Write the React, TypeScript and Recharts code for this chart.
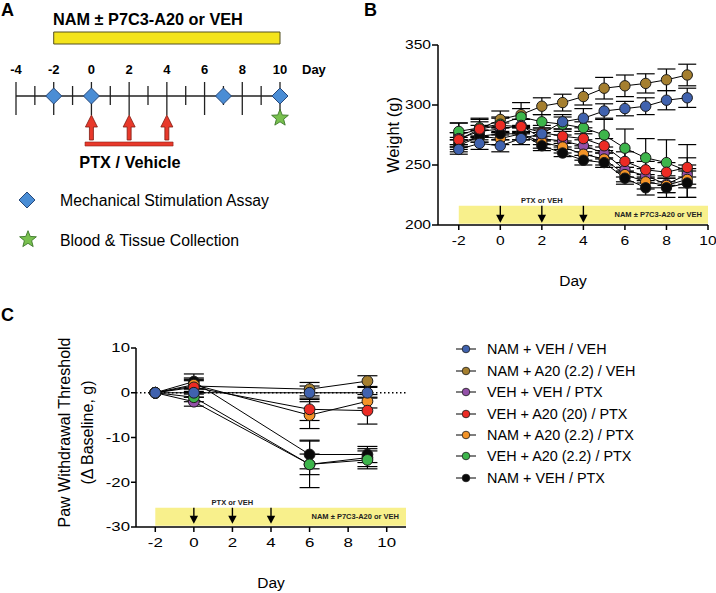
import React from 'react';
import {
  ComposedChart,
  Line,
  XAxis,
  YAxis,
  ErrorBar,
  ReferenceArea,
  ReferenceLine,
  Scatter,
  Legend,
} from 'recharts';

const FONT = '"Liberation Sans", Arial, Helvetica, sans-serif';

// ---------- Panel A (timeline) ----------
const timelineDays = [-4, -3, -2, -1, 0, 1, 2, 3, 4, 5, 6, 7, 8, 9, 10];
const assayDays = [-2, 0, 7, 10];
const collectionDays = [10];
const ptxDays = [0, 2, 4];
const treatmentRange = [-2, 10];
const ptxBarRange = [-0.34, 4.33];

// ---------- Panel B (weight) ----------
const weightDays = [-2, -1, 0, 1, 2, 3, 4, 5, 6, 7, 8, 9];
const wNamVehVeh = [263, 268, 266, 272, 276, 286, 289, 295, 297, 299, 304, 306];
const wNamVehVehErr = [4, 5, 5, 5, 5, 6, 8, 6, 6, 7, 8, 8];
const wNamA20Veh = [275, 280, 288, 292, 299, 302, 307, 314, 316, 318, 321, 325];
const wNamA20VehErr = [10, 9, 7, 10, 7, 7, 7, 9, 9, 8, 9, 9];
const wVehVehPtx = [272, 278, 280, 283, 272, 270, 266, 260, 246, 241, 234, 242];
const wVehVehPtxErr = [5, 5, 5, 5, 5, 5, 5, 5, 6, 6, 7, 8];
const wVehA20hiPtx = [271, 280, 283, 282, 277, 274, 272, 266, 253, 246, 244, 248];
const wVehA20hiPtxErr = [6, 6, 6, 6, 6, 6, 6, 6, 8, 7, 8, 8];
const wNamA20Ptx = [268, 274, 272, 276, 269, 265, 259, 255, 242, 236, 233, 238];
const wNamA20PtxErr = [5, 5, 5, 5, 5, 5, 5, 5, 6, 6, 6, 7];
const wVehA20Ptx = [278, 281, 284, 290, 286, 284, 281, 275, 264, 256, 252, 245];
const wVehA20PtxErr = [7, 7, 6, 7, 6, 6, 5, 13, 16, 16, 19, 22];
const wNamVehPtx = [266, 274, 276, 276, 266, 260, 254, 252, 239, 231, 231, 235];
const wNamVehPtxErr = [5, 5, 5, 5, 4, 3, 4, 4, 5, 6, 8, 12];
const weightTicksY = [200, 250, 300, 350];
const weightTicksX = [-2, 0, 2, 4, 6, 8, 10];

// ---------- Panel C (paw withdrawal) ----------
const pawDays = [-2, 0, 6, 9];
const pNamVehVeh = [0, 0, 0, 0];
const pNamVehVehErr = [0, 1, 1.5, 1.2];
const pNamA20Veh = [0, 1.5, 0.8, 2.6];
const pNamA20VehErr = [0, 1.5, 1.5, 1.2];
const pVehVehPtx = [0, -2, -16, -14.5];
const pVehVehPtxErr = [0, 1, 2.3, 2];
const pVehA20hiPtx = [0, 1.2, -3.7, -4];
const pVehA20hiPtxErr = [0, 1.5, 2.5, 3];
const pNamA20Ptx = [0, 1.8, -5, -1.9];
const pNamA20PtxErr = [0, 1.5, 3, 1.5];
const pVehA20Ptx = [0, -1, -16, -15];
const pVehA20PtxErr = [0, 1, 5.2, 2];
const pNamVehPtx = [0, 2.5, -13.8, -13.8];
const pNamVehPtxErr = [0, 1.7, 3.2, 1.8];
const pawTicksY = [-30, -20, -10, 0, 10];
const pawTicksX = [-2, 0, 2, 4, 6, 8, 10];

const groupNames = [
  'NAM + VEH / VEH',
  'NAM + A20 (2.2) / VEH',
  'VEH + VEH / PTX',
  'VEH + A20 (20) / PTX',
  'NAM + A20 (2.2) / PTX',
  'VEH + A20 (2.2) / PTX',
  'NAM + VEH / PTX',
];
const groupKeys = ['namVehVeh', 'namA20Veh', 'vehVehPtx', 'vehA20hiPtx', 'namA20Ptx', 'vehA20Ptx', 'namVehPtx'];
const groupColors = ['#4062AE', '#A57F2F', '#9350A8', '#EC2B24', '#F39327', '#3DB54B', '#0a0a0a'];

const weightValues = [wNamVehVeh, wNamA20Veh, wVehVehPtx, wVehA20hiPtx, wNamA20Ptx, wVehA20Ptx, wNamVehPtx];
const weightErrors = [wNamVehVehErr, wNamA20VehErr, wVehVehPtxErr, wVehA20hiPtxErr, wNamA20PtxErr, wVehA20PtxErr, wNamVehPtxErr];
const pawValues = [pNamVehVeh, pNamA20Veh, pVehVehPtx, pVehA20hiPtx, pNamA20Ptx, pVehA20Ptx, pNamVehPtx];
const pawErrors = [pNamVehVehErr, pNamA20VehErr, pVehVehPtxErr, pVehA20hiPtxErr, pNamA20PtxErr, pVehA20PtxErr, pNamVehPtxErr];

// drawing order (first = bottom)
const weightDrawOrder = [1, 5, 2, 4, 6, 3, 0];
const pawDrawOrder = [2, 6, 1, 4, 3, 5, 0];

function buildRows(days: number[], values: number[][], errors: number[][]) {
  return days.map((day, i) => {
    const row: any = { day };
    groupKeys.forEach((k, g) => {
      row[k] = values[g][i];
      row[k + 'Err'] = errors[g][i];
    });
    return row;
  });
}

const weightRows = buildRows(weightDays, weightValues, weightErrors);
const pawRows = buildRows(pawDays, pawValues, pawErrors);

// ---------- shapes ----------
const starPath = (cx: number, cy: number, R: number, r: number) => {
  let d = '';
  for (let i = 0; i < 10; i++) {
    const ang = -Math.PI / 2 + (i * Math.PI) / 5;
    const rad = i % 2 === 0 ? R : r;
    d += (i === 0 ? 'M' : 'L') + (cx + rad * Math.cos(ang)).toFixed(2) + ',' + (cy + rad * Math.sin(ang)).toFixed(2);
  }
  return d + 'Z';
};

const Diamond = (props: any) => {
  const { cx, cy } = props;
  const h = 8;
  return (
    <path
      d={`M${cx},${cy - h} L${cx + h},${cy} L${cx},${cy + h} L${cx - h},${cy} Z`}
      fill="#4A8DD5"
      stroke="#27487a"
      strokeWidth={1}
    />
  );
};

const Star = (props: any) => {
  const { cx, cy } = props;
  return <path d={starPath(cx, cy, 8.8, 3.8)} fill="#78C04E" stroke="#3b7628" strokeWidth={0.9} />;
};

const RedArrow = (props: any) => {
  const { cx, cy } = props;
  return (
    <path
      d={`M${cx},${cy} L${cx + 6},${cy + 12} L${cx + 2},${cy + 12} L${cx + 2},${cy + 25} L${cx - 2},${cy + 25} L${cx - 2},${cy + 12} L${cx - 6},${cy + 12} Z`}
      fill="#E8392B"
      stroke="#7f1c12"
      strokeWidth={0.8}
    />
  );
};

const DownHead = (props: any) => {
  const { cx, cy } = props;
  return <path d={`M${cx - 4.2},${cy - 8} L${cx + 4.2},${cy - 8} L${cx},${cy} Z`} fill="#000" />;
};

// ---------- tick renderers (figure text is horizontally stretched) ----------
const makeXTick = (fontSize: number, sx: number, dy: number) => (props: any) => {
  const { x, y, payload } = props;
  return (
    <g transform={`translate(${x},${y}) scale(${sx},1)`}>
      <text x={0} y={dy} textAnchor="middle" fontSize={fontSize} fill="#000">
        {payload.value}
      </text>
    </g>
  );
};
const makeYTick = (fontSize: number, sx: number, dy: number) => (props: any) => {
  const { x, y, payload } = props;
  return (
    <g transform={`translate(${x},${y}) scale(${sx},1)`}>
      <text x={0} y={dy} textAnchor="end" fontSize={fontSize} fill="#000">
        {payload.value}
      </text>
    </g>
  );
};

// ---------- Panel A ----------
function PanelA() {
  const axisY = 96;
  return (
    <div style={{ position: 'absolute', left: 0, top: 0 }}>
      <ComposedChart width={330} height={270} margin={{ top: 0, right: 50, bottom: 0, left: 16 }} data={[]}>
        <XAxis type="number" dataKey="day" domain={[-4, 10]} hide height={0} />
        <YAxis type="number" domain={[0, 270]} reversed hide width={0} />
        <ReferenceArea
          x1={treatmentRange[0]}
          x2={treatmentRange[1]}
          y1={32}
          y2={44}
          fill="#F4E41C"
          fillOpacity={1}
          stroke="#555022"
          strokeWidth={1}
        />
        <ReferenceLine
          segment={[
            { x: timelineDays[0], y: axisY },
            { x: timelineDays[timelineDays.length - 1] + 0.3, y: axisY },
          ]}
          stroke="#222"
          strokeWidth={1.3}
          ifOverflow="visible"
        />
        {timelineDays.map((d) => {
          const major = d % 2 === 0;
          return (
            <ReferenceLine
              key={'t' + d}
              segment={[
                { x: d, y: major ? 82 : 86 },
                { x: d, y: major ? 115 : 105 },
              ]}
              stroke="#222"
              strokeWidth={1.3}
              label={
                major
                  ? { value: String(d), position: 'top', offset: 8, fill: '#000', fontSize: 13, fontWeight: 'bold' }
                  : undefined
              }
            />
          );
        })}
        <ReferenceArea
          x1={ptxBarRange[0]}
          x2={ptxBarRange[1]}
          y1={142}
          y2={146}
          fill="#E8392B"
          fillOpacity={1}
          stroke="#8a2015"
          strokeWidth={0.6}
        />
        <Scatter
          data={ptxDays.map((d) => ({ day: d, y: 115 }))}
          dataKey="y"
          shape={RedArrow}
          isAnimationActive={false}
        />
        <Scatter
          data={assayDays.map((d) => ({ day: d, y: axisY }))}
          dataKey="y"
          shape={Diamond}
          isAnimationActive={false}
        />
        <Scatter
          data={collectionDays.map((d) => ({ day: d, y: 118 }))}
          dataKey="y"
          shape={Star}
          isAnimationActive={false}
        />
      </ComposedChart>
    </div>
  );
}

// ---------- Panel B ----------
const bYLabel = (props: any) => {
  const vb = props.viewBox || {};
  const cy = vb.y + vb.height / 2;
  const x = 399;
  return (
    <text x={x} y={cy} transform={`rotate(-90 ${x} ${cy})`} textAnchor="middle" fontSize={16.5} fill="#000">
      Weight (g)
    </text>
  );
};

function PanelB() {
  return (
    <div style={{ position: 'absolute', left: 0, top: 0 }}>
      <ComposedChart width={716} height={300} margin={{ top: 45, right: 8, bottom: 0, left: 378 }} data={weightRows}>
        <XAxis
          type="number"
          dataKey="day"
          domain={[-3, 10]}
          ticks={weightTicksX}
          allowDataOverflow
          height={75}
          tickSize={5}
          tickMargin={6}
          axisLine={{ stroke: '#000', strokeWidth: 1.5 }}
          tickLine={{ stroke: '#000', strokeWidth: 1.5 }}
          tick={makeXTick(12.5, 1.25, 9)}
          interval={0}
          label={{ value: 'Day', position: 'insideBottom', offset: 14, fontSize: 15.5, fill: '#000' }}
        />
        <YAxis
          type="number"
          domain={[200, 350]}
          ticks={weightTicksY}
          allowDataOverflow
          width={60}
          tickSize={6}
          tickMargin={1}
          axisLine={{ stroke: '#000', strokeWidth: 1.5 }}
          tickLine={{ stroke: '#000', strokeWidth: 1.5 }}
          tick={makeYTick(12, 1.3, 4.3)}
          interval={0}
          label={bYLabel}
        />
        <ReferenceArea
          x1={treatmentRange[0]}
          x2={treatmentRange[1]}
          y1={201}
          y2={216}
          fill="#F8F08C"
          fillOpacity={1}
          stroke="none"
          label={{
            value: 'NAM ± P7C3-A20 or VEH',
            position: 'insideRight',
            offset: 6,
            fontSize: 7.5,
            fontWeight: 'bold',
            fill: '#222',
          }}
        />
        {ptxDays.map((d, i) => (
          <ReferenceLine
            key={'bs' + d}
            segment={[
              { x: d, y: 216 },
              { x: d, y: 205 },
            ]}
            stroke="#000"
            strokeWidth={1.4}
            label={
              i === 1
                ? { value: 'PTX or VEH', position: 'top', offset: 3, fontSize: 7.5, fontWeight: 'bold', fill: '#222' }
                : undefined
            }
          />
        ))}
        <Scatter data={ptxDays.map((d) => ({ day: d, tip: 201.8 }))} dataKey="tip" shape={DownHead} isAnimationActive={false} />
        {weightDrawOrder.map((g) => (
          <Line
            key={groupKeys[g]}
            dataKey={groupKeys[g]}
            name={groupNames[g]}
            stroke="#000"
            strokeWidth={1}
            dot={{ r: 5.2, fill: groupColors[g], stroke: '#1a1a1a', strokeWidth: 1, fillOpacity: 1 }}
            activeDot={false}
            isAnimationActive={false}
          >
            <ErrorBar dataKey={groupKeys[g] + 'Err'} width={9} stroke="#000" strokeWidth={1.2} direction="y" />
          </Line>
        ))}
      </ComposedChart>
    </div>
  );
}

// ---------- Panel C ----------
const cYLabel = (props: any) => {
  const vb = props.viewBox || {};
  const cy = vb.y + vb.height / 2 - 5;
  const x1 = 69.5;
  const x2 = 93;
  return (
    <g>
      <text x={x1} y={cy} transform={`rotate(-90 ${x1} ${cy})`} textAnchor="middle" fontSize={16} fill="#000">
        Paw Withdrawal Threshold
      </text>
      <text x={x2} y={cy} transform={`rotate(-90 ${x2} ${cy})`} textAnchor="middle" fontSize={16} fill="#000">
        (Δ Baseline, g)
      </text>
    </g>
  );
};

const legendOrder = [0, 1, 2, 3, 4, 5, 6];
const renderLegendC = () => (
  <div style={{ display: 'flex', flexDirection: 'column', fontFamily: FONT }}>
    {legendOrder.map((g) => (
      <div key={groupKeys[g]} style={{ height: 21.45, display: 'flex', alignItems: 'center' }}>
        <svg width={22} height={12} style={{ display: 'block' }}>
          <line x1={1} y1={6} x2={21} y2={6} stroke="#000" strokeWidth={1} />
          <circle cx={11} cy={6} r={3.8} fill={groupColors[g]} stroke="#1a1a1a" strokeWidth={0.8} />
        </svg>
        <span style={{ marginLeft: 10, fontSize: 14.4, color: '#000', whiteSpace: 'nowrap', lineHeight: '16px' }}>
          {groupNames[g]}
        </span>
      </div>
    ))}
  </div>
);

function PanelC() {
  return (
    <div style={{ position: 'absolute', left: 0, top: 300 }}>
      <ComposedChart width={716} height={293} margin={{ top: 48, right: 310, bottom: 0, left: 76 }} data={pawRows}>
        <XAxis
          type="number"
          dataKey="day"
          domain={[-3, 11]}
          ticks={pawTicksX}
          allowDataOverflow
          height={66}
          tickSize={5}
          tickMargin={5}
          axisLine={{ stroke: '#000', strokeWidth: 1.5 }}
          tickLine={{ stroke: '#000', strokeWidth: 1.5 }}
          tick={makeXTick(13, 1.3, 9.8)}
          interval={0}
          label={{ value: 'Day', position: 'insideBottom', offset: 5, fontSize: 15.5, fill: '#000' }}
        />
        <YAxis
          type="number"
          domain={[-30, 10]}
          ticks={pawTicksY}
          allowDataOverflow
          width={60}
          tickSize={5}
          tickMargin={1}
          axisLine={{ stroke: '#000', strokeWidth: 1.5 }}
          tickLine={{ stroke: '#000', strokeWidth: 1.5 }}
          tick={makeYTick(12, 1.4, 4.3)}
          interval={0}
          label={cYLabel}
        />
        <ReferenceArea
          x1={treatmentRange[0]}
          x2={11}
          y1={-29.7}
          y2={-25.7}
          fill="#F8F08C"
          fillOpacity={1}
          stroke="none"
          label={{
            value: 'NAM ± P7C3-A20 or VEH',
            position: 'insideRight',
            offset: 7,
            fontSize: 7.5,
            fontWeight: 'bold',
            fill: '#222',
          }}
        />
        {ptxDays.map((d, i) => (
          <ReferenceLine
            key={'cs' + d}
            segment={[
              { x: d, y: -25.7 },
              { x: d, y: -27.8 },
            ]}
            stroke="#000"
            strokeWidth={1.4}
            label={
              i === 1
                ? { value: 'PTX or VEH', position: 'top', offset: 3, fontSize: 7.5, fontWeight: 'bold', fill: '#222' }
                : undefined
            }
          />
        ))}
        <Scatter data={ptxDays.map((d) => ({ day: d, tip: -29.3 }))} dataKey="tip" shape={DownHead} isAnimationActive={false} />
        <ReferenceLine
          segment={[
            { x: -3, y: 0 },
            { x: 11, y: 0 },
          ]}
          stroke="#000"
          strokeWidth={1.4}
          strokeDasharray="1.5 2.5"
        />
        {pawDrawOrder.map((g) => (
          <Line
            key={groupKeys[g]}
            dataKey={groupKeys[g]}
            name={groupNames[g]}
            stroke="#000"
            strokeWidth={1}
            dot={{ r: 5.4, fill: groupColors[g], stroke: '#1a1a1a', strokeWidth: 1, fillOpacity: 1 }}
            activeDot={false}
            isAnimationActive={false}
          >
            <ErrorBar dataKey={groupKeys[g] + 'Err'} width={10} stroke="#000" strokeWidth={1.2} direction="y" />
          </Line>
        ))}
        <Legend
          layout="vertical"
          align="center"
          verticalAlign="middle"
          content={renderLegendC}
          wrapperStyle={{ left: 455, top: 38.5, width: 250, height: 151 }}
        />
      </ComposedChart>
    </div>
  );
}

// ---------- overlay text ----------
function Overlay() {
  return (
    <svg
      width={716}
      height={593}
      style={{ position: 'absolute', left: 0, top: 0, pointerEvents: 'none', fontFamily: FONT }}
    >
      <text x={1} y={15.5} fontSize={18} fontWeight="bold" fill="#000">A</text>
      <text x={364} y={16} fontSize={18} fontWeight="bold" fill="#000">B</text>
      <text x={1} y={320.5} fontSize={18} fontWeight="bold" fill="#000">C</text>
      <text x={53} y={25} fontSize={16.3} fontWeight="bold" fill="#000">NAM ± P7C3-A20 or VEH</text>
      <text x={302} y={74} fontSize={13} fontWeight="bold" fill="#000">Day</text>
      <text x={130} y={168.3} fontSize={16.3} fontWeight="bold" fill="#000" textAnchor="middle">PTX / Vehicle</text>
      <Diamond cx={27} cy={200} />
      <text x={60} y={206} fontSize={15.8} fill="#000">Mechanical Stimulation Assay</text>
      <Star cx={28} cy={239.5} />
      <text x={60} y={246} fontSize={15.8} fill="#000">Blood &amp; Tissue Collection</text>
    </svg>
  );
}

export default function App() {
  return (
    <div
      style={{
        position: 'absolute',
        left: 0,
        top: 0,
        width: 716,
        height: 593,
        background: '#fff',
        fontFamily: FONT,
        overflow: 'hidden',
      }}
    >
      <PanelA />
      <PanelB />
      <PanelC />
      <Overlay />
    </div>
  );
}
